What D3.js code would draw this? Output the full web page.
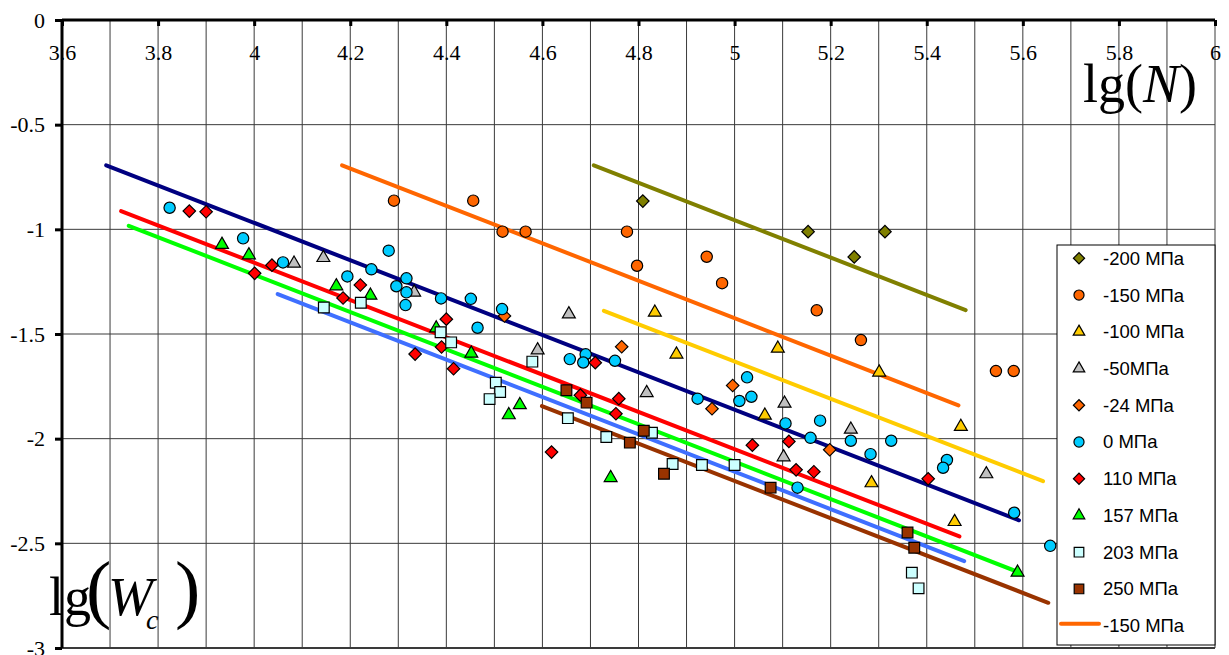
<!DOCTYPE html>
<html>
<head>
<meta charset="utf-8">
<script src="https://cdn.jsdelivr.net/npm/d3@7"></script>
<style>
  html, body { margin: 0; padding: 0; background: #fff; }
  svg { display: block; }
</style>
</head>
<body>
<div id="chart"></div>
<script>
// axis ticks
const xTicks = [3.6, 3.8, 4, 4.2, 4.4, 4.6, 4.8, 5, 5.2, 5.4, 5.6, 5.8, 6];
const xGrid = d3.range(37, 61).map(d => d / 10);
const yTicks = [0, -0.5, -1, -1.5, -2, -2.5, -3];

// measured points, [lg(N), lg(Wc)]
const pM200 = [[4.809, -0.865], [5.153, -1.011], [5.249, -1.132], [5.313, -1.011]];
const pM150 = [[4.291, -0.863], [4.456, -0.863], [4.517, -1.011], [4.565, -1.011], [4.776, -1.011],
  [4.797, -1.174], [4.942, -1.131], [4.974, -1.257], [5.171, -1.387], [5.263, -1.529],
  [5.544, -1.677], [5.581, -1.677]];
const pM100 = [[4.834, -1.397], [4.879, -1.597], [5.090, -1.569], [5.063, -1.889], [5.301, -1.683],
  [5.471, -1.943], [5.285, -2.212], [5.458, -2.397]];
const pM50 = [[4.083, -1.163], [4.144, -1.136], [4.333, -1.301], [4.655, -1.405], [4.590, -1.577],
  [4.817, -1.781], [5.104, -1.832], [5.102, -2.088], [5.242, -1.956], [5.524, -2.169]];
const pM24 = [[4.521, -1.414], [4.765, -1.561], [4.996, -1.746], [4.953, -1.857], [5.198, -2.053]];
const p0 = [[3.824, -0.897], [3.977, -1.043], [4.060, -1.158], [4.194, -1.225], [4.244, -1.191],
  [4.280, -1.102], [4.296, -1.272], [4.317, -1.234], [4.317, -1.301], [4.315, -1.362],
  [4.389, -1.330], [4.451, -1.332], [4.516, -1.381], [4.465, -1.470], [4.657, -1.620],
  [4.690, -1.597], [4.685, -1.636], [4.751, -1.628], [4.923, -1.809], [5.026, -1.707],
  [5.010, -1.820], [5.035, -1.800], [5.106, -1.927], [5.158, -1.996], [5.131, -2.234],
  [5.178, -1.914], [5.242, -2.010], [5.326, -2.010], [5.283, -2.074], [5.442, -2.102],
  [5.434, -2.139], [5.582, -2.354], [5.657, -2.512]];
const p110 = [[3.865, -0.913], [3.900, -0.916], [4.001, -1.210], [4.037, -1.171], [4.185, -1.328],
  [4.221, -1.266], [4.400, -1.429], [4.390, -1.562], [4.335, -1.596], [4.415, -1.666],
  [4.710, -1.637], [4.679, -1.792], [4.759, -1.809], [4.753, -1.881], [4.619, -2.064],
  [5.037, -2.031], [5.113, -2.013], [5.128, -2.149], [5.165, -2.158], [5.403, -2.192]];
const p157 = [[3.933, -1.073], [3.989, -1.123], [4.171, -1.271], [4.242, -1.316], [4.379, -1.472],
  [4.452, -1.593], [4.553, -1.839], [4.530, -1.887], [4.742, -2.187], [5.589, -2.639]];
const p203 = [[4.145, -1.373], [4.222, -1.351], [4.388, -1.492], [4.410, -1.540], [4.579, -1.632],
  [4.503, -1.733], [4.512, -1.777], [4.490, -1.811], [4.653, -1.902], [4.733, -1.992],
  [4.828, -1.972], [4.871, -2.121], [4.932, -2.126], [5.000, -2.126], [5.369, -2.640],
  [5.383, -2.715]];
const p250 = [[4.650, -1.769], [4.692, -1.828], [4.811, -1.962], [4.782, -2.019], [4.853, -2.168],
  [5.075, -2.234], [5.360, -2.448], [5.374, -2.521]];

// fitted lines (end points)
const fitM200 = [[4.707, -0.694], [5.481, -1.386]];
const fitM150 = [[4.183, -0.694], [5.466, -1.841]];
const fitM100 = [[4.728, -1.389], [5.642, -2.203]];
const fit0 = [[3.692, -0.694], [5.592, -2.390]];
const fit110 = [[3.723, -0.913], [5.468, -2.467]];
const fit157 = [[3.739, -0.983], [5.589, -2.636]];
const fit203 = [[4.049, -1.309], [5.478, -2.585]];
const fit250 = [[4.599, -1.844], [5.653, -2.784]];

const series = [
  {name: "-200 МПа", shape: "diamond", fill: "#808000", points: pM200},
  {name: "-150 МПа", shape: "circle", fill: "#ff6600", points: pM150},
  {name: "-100 МПа", shape: "triangle", fill: "#ffcc00", points: pM100},
  {name: "-50МПа", shape: "triangle", fill: "#c0c0c0", points: pM50},
  {name: "-24 МПа", shape: "diamond", fill: "#ff6600", points: pM24},
  {name: "0 МПа", shape: "circle", fill: "#00ccff", points: p0},
  {name: "110 МПа", shape: "diamond", fill: "#ff0000", points: p110},
  {name: "157 МПа", shape: "triangle", fill: "#00ff00", points: p157},
  {name: "203 МПа", shape: "square", fill: "#ccffff", points: p203},
  {name: "250 МПа", shape: "square", fill: "#993300", points: p250}
];

const fits = [
  {name: "-150 МПа", color: "#ff6600", points: fitM150, legend: true},
  {color: "#808000", points: fitM200},
  {color: "#ffcc00", points: fitM100},
  {color: "#000080", points: fit0},
  {color: "#ff0000", points: fit110},
  {color: "#00ff00", points: fit157},
  {color: "#3f6fff", points: fit203},
  {color: "#993300", points: fit250}
];

const width = 1229, height = 655;
const x = d3.scaleLinear().domain([3.6, 6]).range([62, 1215]);
const y = d3.scaleLinear().domain([0, -3]).range([20, 648]);

const svg = d3.select("#chart").append("svg")
  .attr("width", width)
  .attr("height", height);

// grid
svg.append("g").selectAll("line").data(xGrid).enter().append("line")
  .attr("x1", d => x(d)).attr("x2", d => x(d))
  .attr("y1", y(0)).attr("y2", y(-3))
  .attr("stroke", "#3a3a3a").attr("stroke-width", 1);
svg.append("g").selectAll("line").data(yTicks.slice(1)).enter().append("line")
  .attr("x1", x(3.6)).attr("x2", x(6))
  .attr("y1", d => y(d)).attr("y2", d => y(d))
  .attr("stroke", "#3a3a3a").attr("stroke-width", d => d === -3 ? 2 : 1);

// axes: x on top, y on the left
const xAxis = svg.append("g")
  .attr("transform", `translate(0,${y(0)})`)
  .call(d3.axisBottom(x).tickValues(xTicks).tickSize(6).tickPadding(18).tickFormat(d => String(d)));
const yAxis = svg.append("g")
  .attr("transform", `translate(${x(3.6)},0)`)
  .call(d3.axisLeft(y).tickValues(yTicks).tickSize(7).tickPadding(10).tickFormat(d => String(d)));

[xAxis, yAxis].forEach(a => {
  a.select(".domain").attr("stroke", "#000").attr("stroke-width", 3);
  a.selectAll(".tick line").attr("stroke", "#000").attr("stroke-width", 3);
  a.selectAll(".tick text")
    .attr("font-family", "'Liberation Serif', 'Times New Roman', serif")
    .attr("font-size", 22)
    .attr("fill", "#000");
});
xAxis.select(".domain").attr("d", `M${x(3.6)},0H${x(6)}`);
yAxis.select(".domain").attr("d", `M0,${y(0)}V${y(-3)}`);

// fitted lines
const line = d3.line().x(d => x(d[0])).y(d => y(d[1]));
svg.append("g").selectAll("path").data(fits).enter().append("path")
  .attr("d", d => line(d.points))
  .attr("fill", "none")
  .attr("stroke", d => d.color)
  .attr("stroke-width", 4)
  .attr("stroke-linecap", "round");

// markers
function symbolPath(shape, k) {
  if (shape === "circle") return d3.symbol(d3.symbolCircle, 100 * k)();
  if (shape === "triangle") return d3.symbol(d3.symbolTriangle, 72 * k)();
  if (shape === "square") return d3.symbol(d3.symbolSquare, 115 * k)();
  return d3.symbol(d3.symbolSquare, 78 * k)();
}

series.forEach(s => {
  svg.append("g").selectAll("path").data(s.points).enter().append("path")
    .attr("d", symbolPath(s.shape, 1))
    .attr("transform", d => `translate(${x(d[0])},${y(d[1])})` + (s.shape === "diamond" ? " rotate(45)" : ""))
    .attr("fill", s.fill)
    .attr("stroke", "#000")
    .attr("stroke-width", 1.2);
});

// axis titles
const serif = "'Liberation Serif', 'Times New Roman', serif";
const tN = svg.append("text")
  .attr("x", 1083).attr("y", 102)
  .attr("font-family", serif).attr("font-size", 54);
tN.append("tspan").text("lg(");
tN.append("tspan").attr("font-style", "italic").text("N");
tN.append("tspan").text(")");

const tW = svg.append("g").attr("font-family", serif);
tW.append("text").attr("x", 49).attr("y", 615).attr("font-size", 54).text("lg");
tW.append("text").attr("x", 86).attr("y", 614).attr("font-size", 76).text("(");
tW.append("text").attr("x", 108).attr("y", 615).attr("font-size", 54).attr("font-style", "italic").text("W");
tW.append("text").attr("x", 146).attr("y", 629).attr("font-size", 28).attr("font-style", "italic").text("c");
tW.append("text").attr("x", 175).attr("y", 614).attr("font-size", 76).text(")");

// legend
const legend = svg.append("g");
legend.append("rect")
  .attr("x", 1057).attr("y", 245)
  .attr("width", 158).attr("height", 400)
  .attr("fill", "#fff").attr("stroke", "#000").attr("stroke-width", 1);

const legendItems = series.map(s => ({name: s.name, shape: s.shape, fill: s.fill}))
  .concat(fits.filter(f => f.legend).map(f => ({name: f.name, shape: "line", fill: f.color})));

const item = legend.selectAll(".item").data(legendItems).enter().append("g")
  .attr("class", "item")
  .attr("transform", (d, i) => `translate(0,${258.3 + i * 36.74})`);

item.filter(d => d.shape !== "line").append("path")
  .attr("d", d => symbolPath(d.shape, 0.8))
  .attr("transform", d => "translate(1079,0)" + (d.shape === "diamond" ? " rotate(45)" : ""))
  .attr("fill", d => d.fill)
  .attr("stroke", "#000")
  .attr("stroke-width", 1.2);

item.filter(d => d.shape === "line").append("line")
  .attr("x1", 1061).attr("x2", 1099)
  .attr("y1", -2).attr("y2", -2)
  .attr("stroke", d => d.fill)
  .attr("stroke-width", 4)
  .attr("stroke-linecap", "round");

item.append("text")
  .attr("x", 1103).attr("y", 0)
  .attr("dy", "0.35em")
  .attr("font-family", "'Liberation Sans', Arial, sans-serif")
  .attr("font-size", 18.5)
  .text(d => d.name);
</script>
</body>
</html>
